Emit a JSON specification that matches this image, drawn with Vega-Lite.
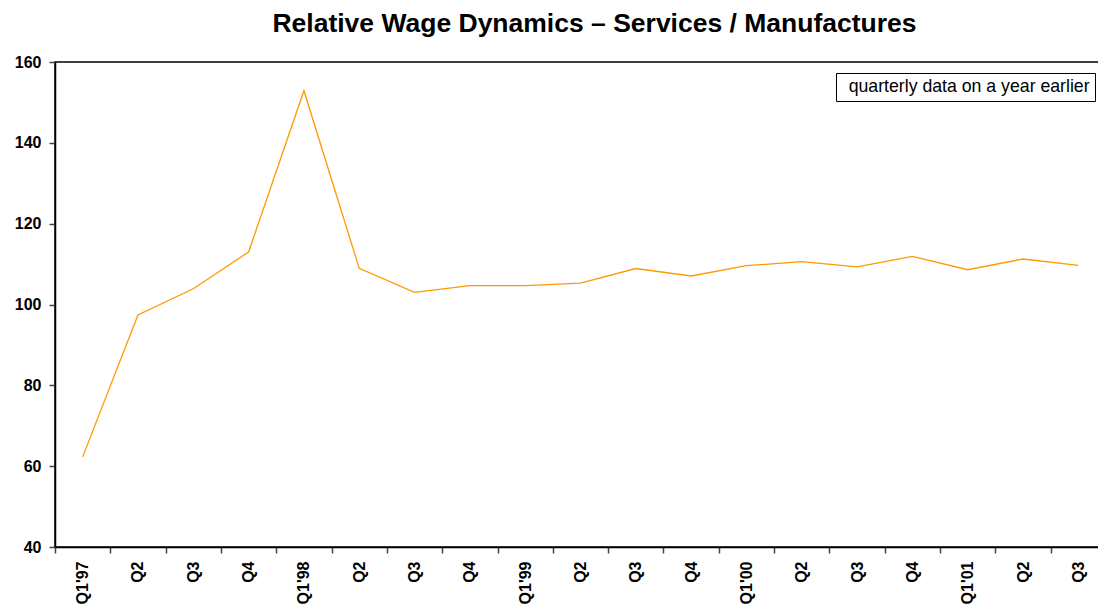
{
  "$schema": "https://vega.github.io/schema/vega-lite/v6.json",
  "autosize": {"type": "none"},
  "padding": {"left": 55, "top": 62, "right": -8, "bottom": 64},
  "width": 1051,
  "height": 485,
  "background": "white",
  "title": {
    "text": "Relative Wage Dynamics – Services / Manufactures",
    "font": "Liberation Sans",
    "fontSize": 26.5,
    "fontWeight": "bold",
    "color": "black",
    "anchor": "middle",
    "dx": 14,
    "offset": 17
  },
  "config": {
    "view": {"stroke": "black", "strokeWidth": 1.5},
    "axis": {
      "labelFont": "Liberation Sans",
      "labelFontSize": 16,
      "labelFontWeight": "bold",
      "labelColor": "black",
      "domainColor": "black",
      "domainWidth": 1.5,
      "tickColor": "#444444",
      "tickWidth": 1.5,
      "tickSize": 6,
      "grid": false,
      "title": null
    }
  },
  "data": {
    "values": [
      {"q": "Q1'97", "i": 0, "v": 62.3},
      {"q": "Q2 ", "i": 1, "v": 97.4},
      {"q": "Q3 ", "i": 2, "v": 103.9},
      {"q": "Q4 ", "i": 3, "v": 113.0},
      {"q": "Q1'98", "i": 4, "v": 152.9},
      {"q": "Q2  ", "i": 5, "v": 108.95},
      {"q": "Q3  ", "i": 6, "v": 103.0},
      {"q": "Q4  ", "i": 7, "v": 104.65},
      {"q": "Q1'99", "i": 8, "v": 104.65},
      {"q": "Q2   ", "i": 9, "v": 105.3},
      {"q": "Q3   ", "i": 10, "v": 108.9},
      {"q": "Q4   ", "i": 11, "v": 107.05},
      {"q": "Q1'00", "i": 12, "v": 109.6},
      {"q": "Q2    ", "i": 13, "v": 110.6},
      {"q": "Q3    ", "i": 14, "v": 109.3},
      {"q": "Q4    ", "i": 15, "v": 111.9},
      {"q": "Q1'01", "i": 16, "v": 108.6},
      {"q": "Q2     ", "i": 17, "v": 111.25},
      {"q": "Q3     ", "i": 18, "v": 109.7}
    ]
  },
  "mark": {"type": "line", "strokeWidth": 1.3, "color": "#FF9900"},
  "encoding": {
    "x": {
      "field": "q",
      "type": "ordinal",
      "sort": {"field": "i"},
      "scale": {"type": "band", "paddingInner": 0, "paddingOuter": 0},
      "axis": {
        "labelAngle": -90,
        "labelAlign": "right",
        "labelBaseline": "middle",
        "labelPadding": 8,
        "tickBand": "extent",
        "labelExpr": "isValid(datum.value) ? trim(datum.value) : ''"
      }
    },
    "y": {
      "field": "v",
      "type": "quantitative",
      "scale": {"domain": [40, 160], "nice": false, "zero": false},
      "axis": {"values": [40, 60, 80, 100, 120, 140, 160], "labelPadding": 8}
    },
    "color": {
      "datum": "quarterly data on a year earlier",
      "type": "nominal",
      "scale": {"range": ["#FF9900"]},
      "legend": {
        "title": null,
        "orient": "top-right",
        "offset": 11,
        "strokeColor": "black",
        "fillColor": "white",
        "padding": 5,
        "symbolSize": 0,
        "symbolOpacity": 0,
        "symbolStrokeWidth": 0,
        "labelOffset": -10,
        "labelLimit": 500,
        "labelFont": "Liberation Sans",
        "labelFontSize": 17.7,
        "labelColor": "black"
      }
    }
  }
}
